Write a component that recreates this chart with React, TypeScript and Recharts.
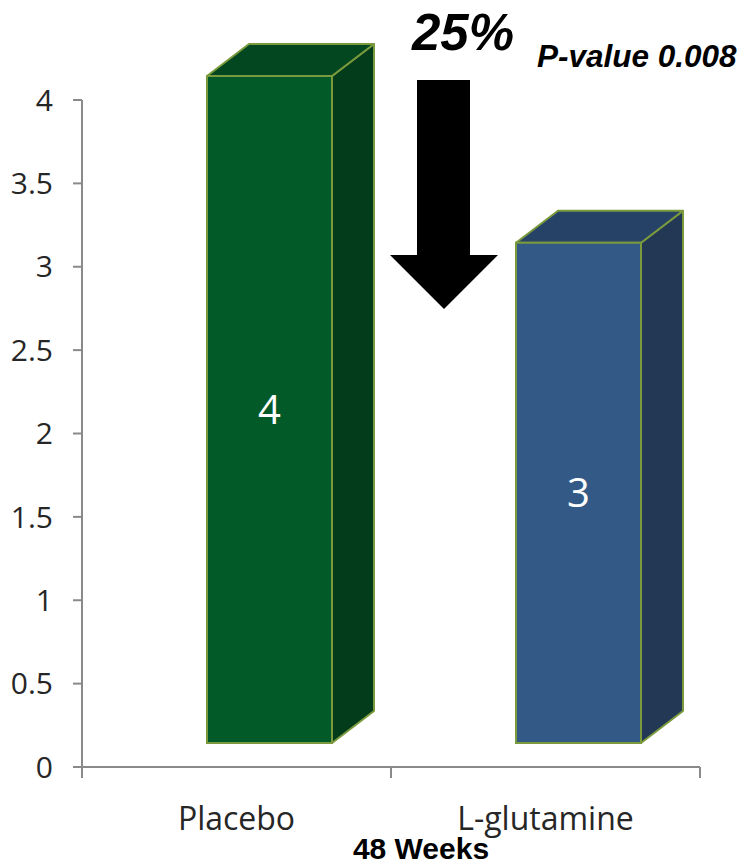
import React from "react";
import {
  BarChart,
  Bar,
  XAxis,
  YAxis,
  Customized,
} from "recharts";

const categories = ["Placebo", "L-glutamine"];
const events = [4, 3];
const yTicks = [0, 0.5, 1, 1.5, 2, 2.5, 3, 3.5, 4];
const edgeTicks = [0, 1, 2];

const data = categories.map((name, i) => ({ name, value: events[i], edge: i + 0.5 }));

// front / top / side colours per bar
const FACES = [
  { front: "#025a29", top: "#02471f", side: "#023c1a" },
  { front: "#335a86", top: "#264267", side: "#233855" },
];
const EDGE = "#7b9a3d";
const AXIS = "#8a8a8a";
const LABEL_FONT = "'Open Sans', 'Noto Sans', sans-serif";
const BOLD_FONT = "'Liberation Sans', Arial, sans-serif";

// excel-ish 3d box
const SHIFT_X = 33;
const SHIFT_Y = -24;
const DX = 42;
const DY = -32;

function Box3D(props: any) {
  const { x, y, width, height, index, payload } = props;
  const c = FACES[index % FACES.length];
  const x0 = x + SHIFT_X;
  const y0 = y + SHIFT_Y;
  const w = width;
  const h = height;
  const top = `${x0},${y0} ${x0 + DX},${y0 + DY} ${x0 + w + DX},${y0 + DY} ${x0 + w},${y0}`;
  const side = `${x0 + w},${y0} ${x0 + w + DX},${y0 + DY} ${x0 + w + DX},${y0 + h + DY} ${x0 + w},${y0 + h}`;
  return (
    <g>
      <polygon points={side} fill={c.side} stroke={EDGE} strokeWidth={2} strokeLinejoin="round" />
      <polygon points={top} fill={c.top} stroke={EDGE} strokeWidth={2} strokeLinejoin="round" />
      <rect x={x0} y={y0} width={w} height={h} fill={c.front} stroke={EDGE} strokeWidth={2} />
      <text
        x={x0 + w / 2}
        y={y0 + h / 2}
        dy="0.36em"
        textAnchor="middle"
        fill="#ffffff"
        fontSize={40}
        fontFamily={LABEL_FONT}
      >
        {payload.value}
      </text>
    </g>
  );
}

function Annotations() {
  return (
    <g>
      <path d="M417,80 L470,80 L470,255 L498,255 L444,309 L390,255 L417,255 Z" fill="#000" />
      <text x={412} y={50} fontSize={51} fontWeight="bold" fontStyle="italic" fontFamily={BOLD_FONT} fill="#000">
        25%
      </text>
      <text x={537} y={67} fontSize={31.5} fontWeight="bold" fontStyle="italic" fontFamily={BOLD_FONT} fill="#000">
        P-value 0.008
      </text>
      <text x={421} y={859} textAnchor="middle" fontSize={30} fontWeight="bold" fontFamily={BOLD_FONT} fill="#000">
        48 Weeks
      </text>
    </g>
  );
}

export default function App() {
  return (
    <div style={{ position: "absolute", left: 0, top: 0, width: 745, height: 866, background: "#fff" }}>
      <BarChart
        width={745}
        height={866}
        data={data}
        margin={{ top: 100, right: 45, bottom: 39, left: 0 }}
      >
        <XAxis
          xAxisId="axis0"
          type="number"
          dataKey="edge"
          domain={[0, 2]}
          ticks={edgeTicks}
          interval={0}
          allowDataOverflow
          height={1}
          tickSize={11}
          tickFormatter={() => ""}
          axisLine={{ stroke: AXIS, strokeWidth: 2 }}
          tickLine={{ stroke: AXIS, strokeWidth: 2 }}
        />
        <XAxis
          xAxisId="axis1"
          dataKey="name"
          height={59}
          axisLine={false}
          tickLine={false}
          tickSize={0}
          tickMargin={39}
          tick={{ fontSize: 32, fill: "#262626", fontFamily: LABEL_FONT }}
        />
        <YAxis
          width={82}
          domain={[0, 4]}
          ticks={yTicks}
          interval={0}
          tickSize={9}
          tickMargin={20}
          axisLine={{ stroke: AXIS, strokeWidth: 2 }}
          tickLine={{ stroke: AXIS, strokeWidth: 2 }}
          tick={{ fontSize: 30, fill: "#262626", fontFamily: LABEL_FONT }}
        />
        <Bar
          xAxisId="axis1"
          dataKey="value"
          barSize={125}
          shape={Box3D}
          isAnimationActive={false}
        />
        <Customized component={Annotations} />
      </BarChart>
    </div>
  );
}
